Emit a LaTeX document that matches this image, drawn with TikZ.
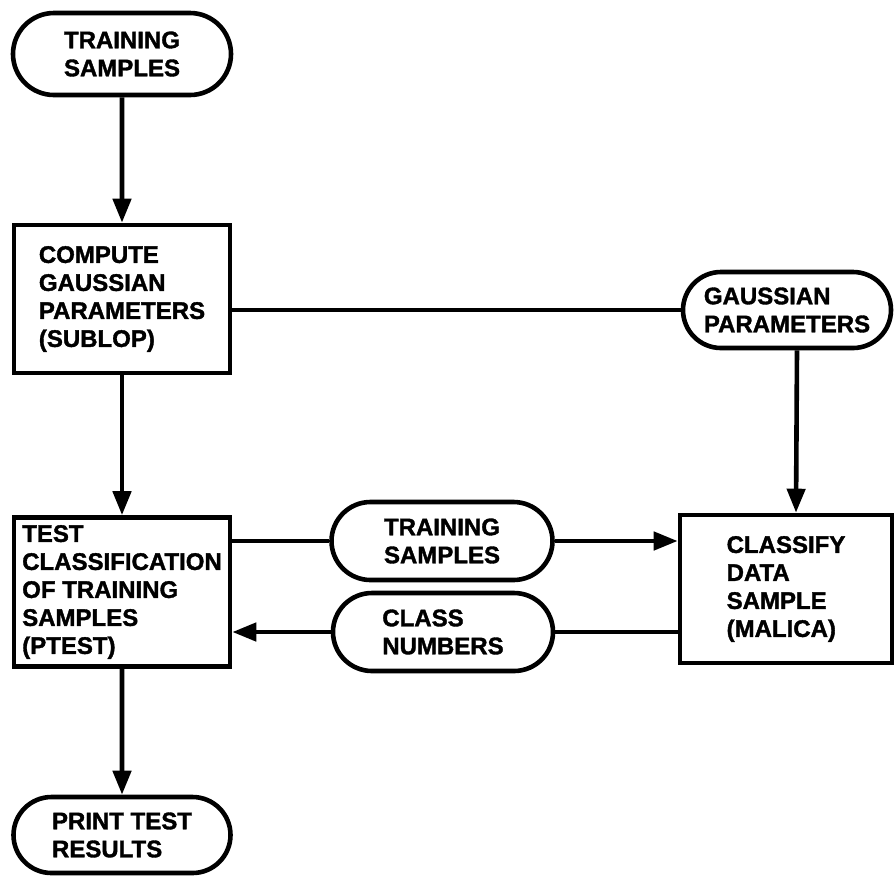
\documentclass[tikz,border=0pt]{standalone}
\usepackage{fontspec}
\setmainfont{Liberation Sans}[BoldFeatures={FakeBold=1.5}]
\usetikzlibrary{shapes.misc,arrows.meta}
\tikzset{
  term/.style={draw, rounded rectangle, inner sep=0pt, align=left,
    font=\bfseries\fontsize{12}{14}\selectfont},
  proc/.style={draw, rectangle, inner sep=0pt, align=left,
    font=\bfseries\fontsize{12}{14}\selectfont}
}
\begin{document}
\begin{tikzpicture}[x=0.5pt, y=-0.5pt, line width=2.3pt, >={Triangle[length=12pt,width=9pt]}]
   \useasboundingbox (0,0) rectangle (894,875);
   %blocchi
   \node[term, minimum width=109pt, minimum height=41pt] (train) at (122,54) {TRAINING\\SAMPLES};
   \node[proc, minimum width=108pt, minimum height=74pt] (compute) at (122,299) {COMPUTE\\GAUSSIAN\\PARAMETERS\\(SUBLOP)};
   \node[term, minimum width=104pt, minimum height=38pt] (gauss) at (787,310) {GAUSSIAN\\PARAMETERS};
   \node[proc, minimum width=108pt, minimum height=74.5pt] (test) at (122,592) {TEST\\CLASSIFICATION\\OF TRAINING\\SAMPLES\\(PTEST)};
   \node[term, minimum width=110.5pt, minimum height=39pt] (trainmid) at (442,541) {TRAINING\\SAMPLES};
   \node[term, minimum width=110pt, minimum height=39pt] (classnum) at (443,632) {CLASS\\NUMBERS};
   \node[proc, minimum width=106pt, minimum height=74pt] (classify) at (786,589) {CLASSIFY\\DATA\\SAMPLE\\(MALICA)};
   \node[term, minimum width=108.5pt, minimum height=38pt] (print) at (122,835) {PRINT TEST\\RESULTS};
   %collegamenti
   \draw[->] (train) -- (compute);
   \draw (compute.east |- gauss.west) -- (gauss.west);
   \draw[->] ([xshift=5pt]gauss.south) -- ([xshift=5pt]classify.north);
   \draw[->] (compute) -- (test);
   \draw (test.east |- trainmid.west) -- (trainmid.west);
   \draw[->] (trainmid.east) -- (trainmid.east -| classify.west);
   \draw (classify.west |- classnum.east) -- (classnum.east);
   \draw[->] (classnum.west) -- (classnum.west -| test.east);
   \draw[->] (test) -- (print);
\end{tikzpicture}
\end{document}
